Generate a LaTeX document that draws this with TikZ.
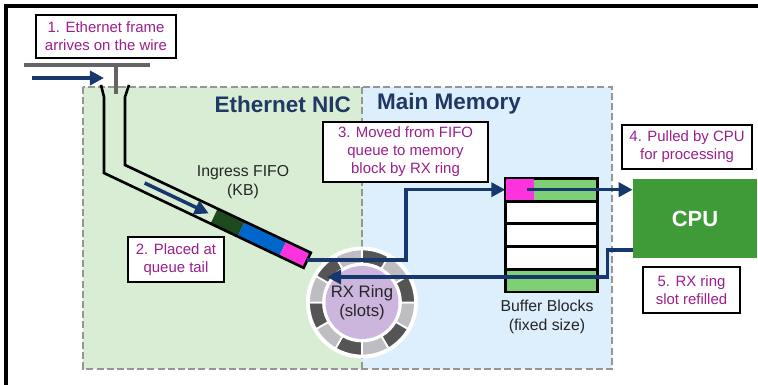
\documentclass[tikz,border=0pt]{standalone}
\usepackage{fontspec}
\setmainfont{Liberation Sans}
\usepackage{tikz}
\usetikzlibrary{arrows.meta, positioning, shadows}
\definecolor{nicgreen}{RGB}{217,237,213}
\definecolor{memblue}{RGB}{221,238,252}
\definecolor{edgegray}{RGB}{150,150,150}
\definecolor{titleblue}{RGB}{31,56,100}
\definecolor{flownavy}{RGB}{22,56,108}
\definecolor{wiregray}{RGB}{100,100,100}
\definecolor{stepmagenta}{RGB}{155,30,140}
\definecolor{fifodark}{RGB}{30,75,30}
\definecolor{fifoblue}{RGB}{0,102,204}
\definecolor{hotpink}{RGB}{255,51,221}
\definecolor{bufgreen}{RGB}{127,207,119}
\definecolor{cpugreen}{RGB}{62,155,56}
\definecolor{slotdark}{RGB}{85,85,85}
\definecolor{slotlight}{RGB}{190,190,194}
\definecolor{ringpurple}{RGB}{204,182,222}
\definecolor{inkgray}{RGB}{38,38,38}
\tikzstyle{callout} = [draw=black, line width=1.1pt, fill=white, text=stepmagenta, align=center, font=\fontsize{8.5}{10.2}\selectfont, inner sep=0pt, drop shadow={shadow xshift=0.6pt, shadow yshift=-0.6pt, opacity=0.6}]
\tikzstyle{flow} = [line width=2pt, draw=flownavy, -{Triangle[length=8pt, width=8pt]}]

\begin{document}
\begin{tikzpicture}[x=0.02cm, y=-0.02cm, region/.style={draw=edgegray, line width=1.1pt, dash pattern=on 4pt off 1.8pt}, title/.style={font=\fontsize{12.8}{14}\selectfont\bfseries, text=titleblue}, caption/.style={font=\fontsize{9}{11}\selectfont, text=inkgray, align=center}, pipe/.style={line width=1.5pt, line join=miter}, slot/.style={draw=black, line width=0.8pt, minimum width=1.82cm, minimum height=0.428cm, inner sep=0pt}]
    \useasboundingbox (0,0) rectangle (758,385);
    \draw[line width=2pt] (6,385) -- (6,6) -- (758,6);
    % NIC and memory areas
    \fill[nicgreen] (83,87) rectangle (362,369);
    \fill[memblue] (362,87) rectangle (612,369);
    \draw[region] (83,87) rectangle (612,369);
    \draw[region] (362,87) -- (362,369);
    \node[title, anchor=east] (nictitle) at (357,104) {Ethernet NIC};
    \node[title, anchor=west] (memtitle) at (371,104) {Main Memory};
    % wire
    \draw[wiregray, line width=2.3pt] (24,65) -- (150,65);
    \draw[wiregray, line width=2.6pt] (116,65) -- (116,94);
    \coordinate (wirein) at (32,78);
    \coordinate (tap) at (104,78);
    % ingress fifo
    \begin{scope}[shift={(104,173)}, rotate=-25.4]
    \fill[fifodark] (118,0) rectangle (148,-16.7);
    \fill[fifoblue] (148,0) rectangle (194,-16.7);
    \fill[hotpink] (194,0) rectangle (221,-16.7);
    \coordinate (lowend) at (221,0);
    \coordinate (upend) at (221,-16.7);
    \coordinate (tail) at (221,-8.35);
    \coordinate (inflowA) at (41,-8.4);
    \coordinate (inflowB) at (112,-8.4);
    \end{scope}
    \draw[pipe] (101,85) -- (104,97) -- (104,173) -- (lowend) -- (upend) -- (125,165) -- (125,97) -- (129,85);
    \node[caption] (fifolbl) at (243,182) {Ingress FIFO\\(KB)};
    % rx ring
    \coordinate (hub) at (362,302.5);
    \fill[white] (hub) circle[radius=56];
    \foreach \i in {0,...,11} {
        \pgfmathsetmacro\a{30*\i}
        \pgfmathsetmacro\b{30*\i+30}
        \ifodd\i \def\segcol{slotdark}\else\def\segcol{slotlight}\fi
        \filldraw[fill=\segcol, draw=white, line width=1pt, shift={(hub)}] (\a:39) -- (\a:53) arc[start angle=\a, end angle=\b, radius=53] -- (\b:39) arc[start angle=\b, end angle=\a, radius=39] -- cycle;
    }
    \node[circle, fill=ringpurple, minimum size=1.46cm, inner sep=0pt, caption, font=\fontsize{9.5}{11}\selectfont] (ring) at (hub) {RX Ring\\(slots)};
    \coordinate (ringin) at (327,277);
    % buffer blocks
    \node[slot, fill=bufgreen] (slot1) at (551.5,189.7) {};
    \node[fill=hotpink, inner sep=0pt, minimum width=0.56cm, minimum height=0.428cm, anchor=west] (fresh) at (slot1.west) {};
    \node[slot, fill=white, below=0pt of slot1] (slot2) {};
    \node[slot, fill=white, below=0pt of slot2] (slot3) {};
    \node[slot, fill=white, below=0pt of slot3] (slot4) {};
    \node[slot, fill=bufgreen, below=0pt of slot4] (slot5) {};
    \draw[line width=1.1pt] (slot1.north west) rectangle (slot5.south east);
    \node[caption] (buflbl) at (547,317) {Buffer Blocks\\(fixed size)};
    % cpu
    \node[fill=cpugreen, minimum width=2.48cm, minimum height=1.58cm, font=\fontsize{12.5}{14}\selectfont\bfseries, text=white] (cpu) at (695,218.5) {CPU};
    % steps
    \node[callout, minimum width=2.8cm, minimum height=0.86cm] (step1) at (106,36.5) {1. Ethernet frame\\arrives on the wire};
    \node[callout, minimum width=1.92cm, minimum height=0.9cm] (step2) at (176,259.5) {2. Placed at\\queue tail};
    \node[callout, minimum width=3.3cm, minimum height=1.2cm] (step3) at (405.5,152) {3. Moved from FIFO\\queue to memory\\block by RX ring};
    \node[callout, minimum width=2.6cm, minimum height=0.88cm] (step4) at (687,147) {4. Pulled by CPU\\for processing};
    \node[callout, minimum width=1.94cm, minimum height=0.92cm] (step5) at (691.5,290) {5. RX ring\\slot refilled};
    % flows
    \draw[flow] (wirein) -- (tap);
    \draw[flow] (inflowA) -- (inflowB);
    \draw[flow] (tail) -- ++(99,0) |- (slot1.west);
    \draw[flow] ([xshift=4pt]fresh.center) -- (fresh.center -| cpu.west);
    \draw[flow] ([yshift=-17.9pt]cpu.west) -- ++(-25,0) |- (ringin);
\end{tikzpicture}
\end{document}
